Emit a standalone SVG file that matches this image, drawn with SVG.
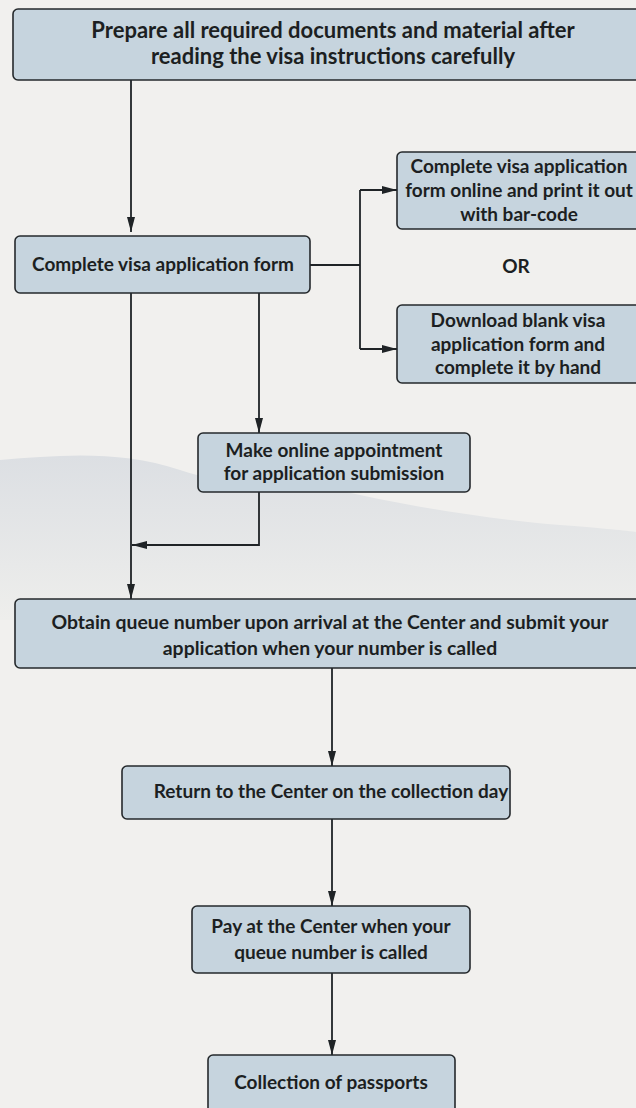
<svg xmlns="http://www.w3.org/2000/svg" width="636" height="1108" viewBox="0 0 636 1108">
<defs>
<style>
.node rect{fill:#c6d4de;stroke:#25292c;stroke-width:1.6}
.node text,.lbl{font-family:Lato,"Open Sans","Liberation Sans",sans-serif;font-weight:700;font-size:19px;fill:#1c1f22;text-anchor:middle}
#n1 text{font-size:22px}
#n6 text{font-size:19.4px}
.conn path{fill:none;stroke:#1f2326;stroke-width:1.8}
</style>
<marker id="ah" viewBox="0 0 15 8" refX="15" refY="4" markerWidth="15" markerHeight="8" markerUnits="userSpaceOnUse" orient="auto">
<path d="M0,0 L15,4 L0,8 Z" fill="#1f2326"/>
</marker>
<linearGradient id="mt" x1="0" y1="0" x2="0" y2="1">
<stop offset="0" stop-color="#dcdfe3"/>
<stop offset="1" stop-color="#eeeeec"/>
</linearGradient>
</defs>
<rect x="0" y="0" width="636" height="1108" fill="#f1f0ee"/>
<path d="M0,460 C60,455 120,450 180,470 C240,490 300,480 360,495 C430,510 500,520 560,525 C600,528 620,530 636,532 L636,620 L0,620 Z" fill="url(#mt)"/>
<g class="conn">
<path d="M131,80 V232" marker-end="url(#ah)"/>
<path d="M310,265 H360"/>
<path d="M360,190 V349"/>
<path d="M360,190 H397" marker-end="url(#ah)"/>
<path d="M360,349 H397" marker-end="url(#ah)"/>
<path d="M131,293 V599" marker-end="url(#ah)"/>
<path d="M259,293 V433" marker-end="url(#ah)"/>
<path d="M259,492 V545 H132" marker-end="url(#ah)"/>
<path d="M332,668 V766" marker-end="url(#ah)"/>
<path d="M332,819 V906" marker-end="url(#ah)"/>
<path d="M332,973 V1055" marker-end="url(#ah)"/>
</g>
<g id="n1" class="node"><rect x="13" y="9" width="640" height="71" rx="5"/><text x="333" y="38">Prepare all required documents and material after</text><text x="333" y="64">reading the visa instructions carefully</text></g>
<g id="n2" class="node"><rect x="15" y="236" width="295" height="57" rx="5"/><text x="163" y="271">Complete visa application form</text></g>
<g id="n3" class="node"><rect x="397" y="152" width="250" height="77" rx="5"/><text x="519" y="173">Complete visa application</text><text x="519" y="197">form online and print it out</text><text x="519" y="221">with bar-code</text></g>
<text class="lbl" x="516" y="273">OR</text>
<g id="n4" class="node"><rect x="397" y="305" width="250" height="78" rx="5"/><text x="518" y="327">Download blank visa</text><text x="518" y="351">application form and</text><text x="518" y="374">complete it by hand</text></g>
<g id="n5" class="node"><rect x="198" y="433" width="272" height="59" rx="5"/><text x="334" y="457">Make online appointment</text><text x="334" y="480">for application submission</text></g>
<g id="n6" class="node"><rect x="15" y="599" width="640" height="69" rx="5"/><text x="330" y="629">Obtain queue number upon arrival at the Center and submit your</text><text x="330" y="655">application when your number is called</text></g>
<g id="n7" class="node"><rect x="122" y="766" width="388" height="53" rx="5"/><text x="331" y="798">Return to the Center on the collection day</text></g>
<g id="n8" class="node"><rect x="192" y="906" width="278" height="67" rx="5"/><text x="331" y="933">Pay at the Center when your</text><text x="331" y="959">queue number is called</text></g>
<g id="n9" class="node"><rect x="208" y="1055" width="247" height="70" rx="5"/><text x="331" y="1089">Collection of passports</text></g>
</svg>
